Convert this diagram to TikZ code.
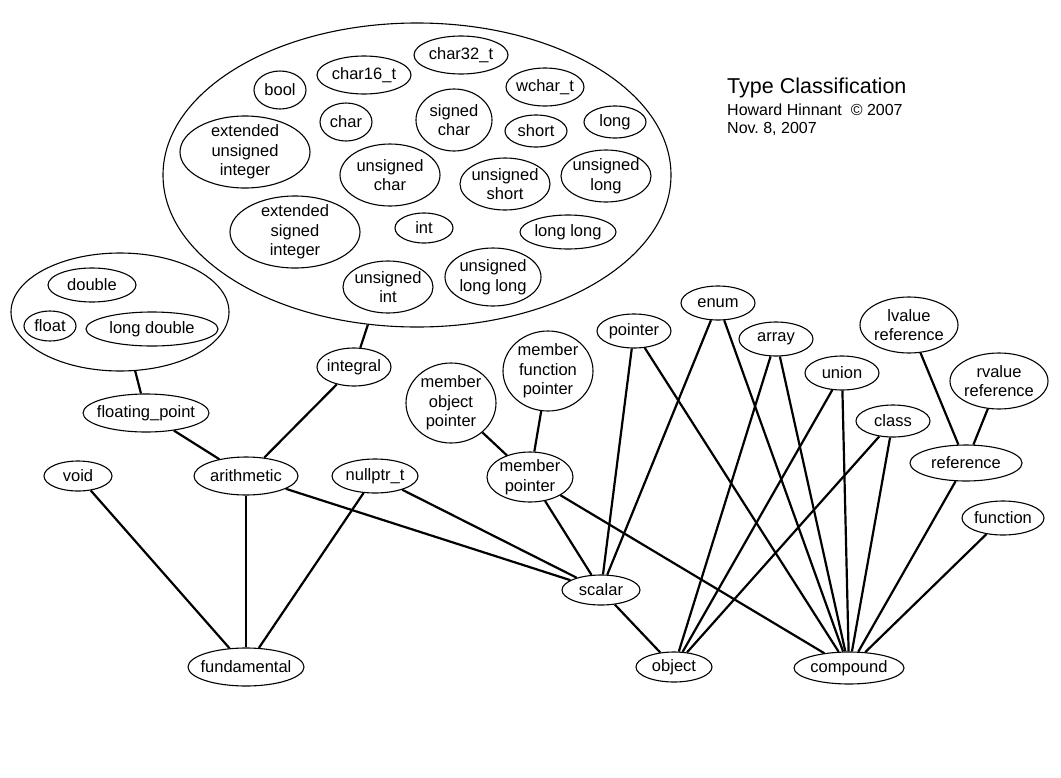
\documentclass[tikz,border=0pt]{standalone}
\usepackage{fontspec}
\setmainfont{Liberation Sans}
\usetikzlibrary{shapes.geometric}
\frenchspacing
\begin{document}
\begin{tikzpicture}[x=1pt,y=-1pt,
  nd/.style={draw, ellipse, line width=1.1pt, inner sep=0pt},
  lab/.style={align=center, inner sep=0pt, font=\fontsize{16.5}{19.5}\selectfont},
  ed/.style={line width=2.2pt},
  ttl/.style={anchor=base west, inner sep=0pt}]
\useasboundingbox (0,0) rectangle (1061,777);
% groups
\node[nd, minimum width=508pt, minimum height=304pt] (intg) at (417,175) {};
\node[nd, minimum width=218pt, minimum height=118pt] (fgrp) at (120,312) {};
% integer types
\node[nd, minimum width=52pt, minimum height=38pt, label={[lab]center:bool}] (bool) at (280,90) {};
\node[nd, minimum width=94pt, minimum height=38pt, label={[lab]center:char16\_t}] (c16) at (364,75) {};
\node[nd, minimum width=94pt, minimum height=38pt, label={[lab]center:char32\_t}] (c32) at (461,55) {};
\node[nd, minimum width=78pt, minimum height=38pt, label={[lab]center:wchar\_t}] (wch) at (545,87) {};
\node[nd, minimum width=52pt, minimum height=38pt, label={[lab]center:char}] (chr) at (346,122) {};
\node[nd, minimum width=76pt, minimum height=62pt, label={[lab]center:{signed\\char}}] (sch) at (454,120) {};
\node[nd, minimum width=62pt, minimum height=32pt, label={[lab]center:short}] (sht) at (536,131) {};
\node[nd, minimum width=62pt, minimum height=32pt, label={[lab]center:long}] (lng) at (615,122) {};
\node[nd, minimum width=130pt, minimum height=72pt, label={[lab]center:{extended\\unsigned\\integer}}] (eui) at (245,152) {};
\node[nd, minimum width=100pt, minimum height=62pt, label={[lab]center:{unsigned\\char}}] (uch) at (390,175) {};
\node[nd, minimum width=90pt, minimum height=52pt, label={[lab]center:{unsigned\\short}}] (ush) at (505,184) {};
\node[nd, minimum width=90pt, minimum height=52pt, label={[lab]center:{unsigned\\long}}] (ulg) at (606,176) {};
\node[nd, minimum width=130pt, minimum height=72pt, label={[lab]center:{extended\\signed\\integer}}] (esi) at (295,232) {};
\node[nd, minimum width=58pt, minimum height=30pt, label={[lab]center:int}] (int) at (424,228) {};
\node[nd, minimum width=96pt, minimum height=34pt, label={[lab]center:long long}] (llg) at (568,232) {};
\node[nd, minimum width=90pt, minimum height=52pt, label={[lab]center:{unsigned\\int}}] (uin) at (388,287) {};
\node[nd, minimum width=96pt, minimum height=58pt, label={[lab]center:{unsigned\\long long}}] (ull) at (493,277) {};
% floating types
\node[nd, minimum width=88pt, minimum height=34pt, label={[lab]center:double}] (dbl) at (92,285) {};
\node[nd, minimum width=52pt, minimum height=30pt, label={[lab]center:float}] (flt) at (50,326) {};
\node[nd, minimum width=132pt, minimum height=34pt, label={[lab]center:long double}] (ldb) at (152,329) {};
% categories
\node[nd, minimum width=74pt, minimum height=38pt, label={[lab]center:integral}] (integral) at (354,367) {};
\node[nd, minimum width=126pt, minimum height=38pt, label={[lab]center:floating\_point}] (fp) at (146,413) {};
\node[nd, minimum width=68pt, minimum height=30pt, label={[lab]center:void}] (void) at (78,476) {};
\node[nd, minimum width=104pt, minimum height=38pt, label={[lab]center:arithmetic}] (arith) at (246,476) {};
\node[nd, minimum width=86pt, minimum height=34pt, label={[lab]center:nullptr\_t}] (nul) at (375,476) {};
\node[nd, minimum width=116pt, minimum height=38pt, label={[lab]center:fundamental}] (fund) at (246,667) {};
\node[nd, minimum width=74pt, minimum height=34pt, label={[lab]center:enum}] (enum) at (718,303) {};
\node[nd, minimum width=74pt, minimum height=34pt, label={[lab]center:pointer}] (ptr) at (634,331) {};
\node[nd, minimum width=74pt, minimum height=34pt, label={[lab]center:array}] (arr) at (776,339) {};
\node[nd, minimum width=98pt, minimum height=56pt, label={[lab]center:{lvalue\\reference}}] (lref) at (909,325) {};
\node[nd, minimum width=74pt, minimum height=34pt, label={[lab]center:union}] (uni) at (842,373) {};
\node[nd, minimum width=98pt, minimum height=56pt, label={[lab]center:{rvalue\\reference}}] (rref) at (999,381) {};
\node[nd, minimum width=90pt, minimum height=80pt, label={[lab]center:{member\\function\\pointer}}] (mfp) at (548,371) {};
\node[nd, minimum width=90pt, minimum height=80pt, label={[lab]center:{member\\object\\pointer}}] (mop) at (451,403) {};
\node[nd, minimum width=74pt, minimum height=32pt, label={[lab]center:class}] (cls) at (893,421) {};
\node[nd, minimum width=112pt, minimum height=36pt, label={[lab]center:reference}] (ref) at (966,463) {};
\node[nd, minimum width=86pt, minimum height=50pt, label={[lab]center:{member\\pointer}}] (mp) at (530,477) {};
\node[nd, minimum width=82pt, minimum height=34pt, label={[lab]center:function}] (fun) at (1003,518) {};
\node[nd, minimum width=78pt, minimum height=30pt, label={[lab]center:scalar}] (sca) at (601,590) {};
\node[nd, minimum width=76pt, minimum height=30pt, label={[lab]center:object}] (obj) at (674,667) {};
\node[nd, minimum width=110pt, minimum height=32pt, label={[lab]center:compound}] (cmp) at (849,668) {};
% title
\node[ttl, font=\fontsize{21.5}{24}\selectfont] (title) at (727,93) {Type Classification};
\node[ttl, font=\fontsize{16}{19}\selectfont] (author) at (727,115) {Howard Hinnant\ \ © 2007};
\node[ttl, font=\fontsize{16}{19}\selectfont] (date) at (727,133) {Nov. 8, 2007};
% edges
\draw[ed] (intg) -- (integral);
\draw[ed] (fgrp) -- (fp);
\draw[ed] (integral) -- (arith);
\draw[ed] (fp) -- (arith);
\draw[ed] (void) -- (fund);
\draw[ed] (arith) -- (fund);
\draw[ed] (nul) -- (fund);
\draw[ed] (arith) -- (sca);
\draw[ed] (nul) -- (sca);
\draw[ed] (mop) -- (mp);
\draw[ed] (mfp) -- (mp);
\draw[ed] (mp) -- (sca);
\draw[ed] (mp) -- (cmp);
\draw[ed] (ptr) -- (sca);
\draw[ed] (ptr) -- (cmp);
\draw[ed] (enum) -- (sca);
\draw[ed] (enum) -- (cmp);
\draw[ed] (arr) -- (obj);
\draw[ed] (arr) -- (cmp);
\draw[ed] (uni) -- (obj);
\draw[ed] (uni) -- (cmp);
\draw[ed] (cls) -- (obj);
\draw[ed] (cls) -- (cmp);
\draw[ed] (lref) -- (ref);
\draw[ed] (rref) -- (ref);
\draw[ed] (ref) -- (cmp);
\draw[ed] (fun) -- (cmp);
\draw[ed] (sca) -- (obj);
\end{tikzpicture}
\end{document}
